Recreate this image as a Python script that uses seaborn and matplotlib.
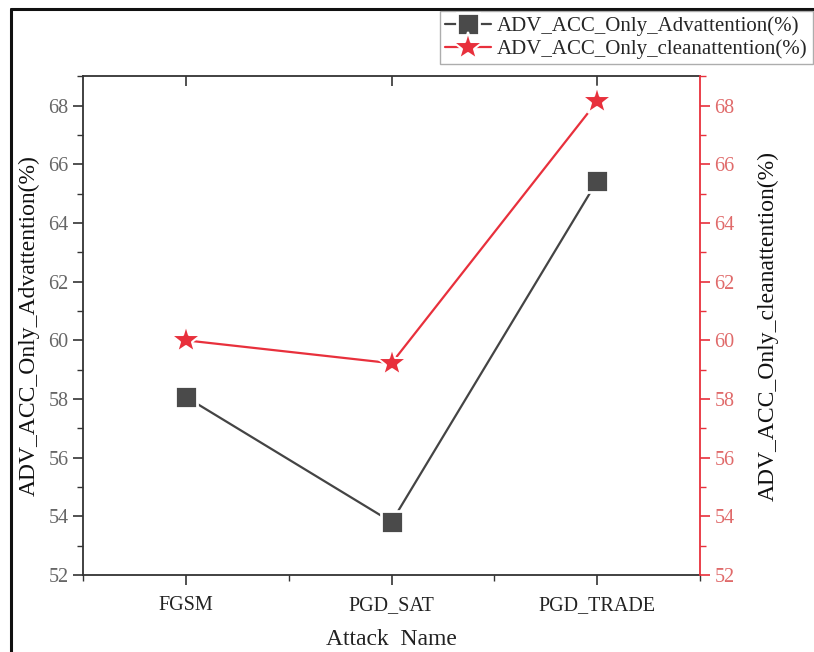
import matplotlib
matplotlib.use("Agg")
import matplotlib.pyplot as plt
import seaborn as sns
import pandas as pd
from matplotlib.lines import Line2D
from matplotlib.ticker import MultipleLocator, FixedLocator

attacks = ["FGSM", "PGD_SAT", "PGD_TRADE"]
adv_only = [58.07, 53.81, 65.43]
clean_only = [60.0, 59.22, 68.15]
yticks = [52, 54, 56, 58, 60, 62, 64, 66, 68]

sns.set_style("ticks")
plt.rcParams["font.family"] = ["Liberation Serif", "DejaVu Serif"]

df = pd.DataFrame({"attack": attacks, "adv": adv_only, "clean": clean_only})

fig = plt.figure(figsize=(8.14, 6.52), dpi=100)
ax = fig.add_axes([0.102, 0.118, 0.758, 0.765])
ax2 = ax.twinx()

black = "#444444"
red = "#e8303c"

sns.lineplot(data=df, x="attack", y="adv", ax=ax, sort=False, color=black,
             linewidth=1.6, marker="s", markersize=16, markerfacecolor="#4a4a4a",
             markeredgecolor="white", markeredgewidth=2.0,
             label="ADV_ACC_Only_Advattention(%)", legend=False)
sns.lineplot(data=df, x="attack", y="clean", ax=ax2, sort=False, color=red,
             linewidth=1.6, marker="*", markersize=22, markerfacecolor=red,
             markeredgecolor="white", markeredgewidth=1.5,
             label="ADV_ACC_Only_cleanattention(%)", legend=False)

for a in (ax, ax2):
    a.set_ylim(52, 69)
    a.set_xlim(-0.5, 2.5)
    a.yaxis.set_major_locator(FixedLocator(yticks))
    a.yaxis.set_minor_locator(MultipleLocator(1))

ax.xaxis.set_minor_locator(MultipleLocator(0.5))
ax.set_xticks(range(len(attacks)))
ax.set_xticklabels(attacks)

ax.tick_params(axis="y", which="major", direction="out", length=7, width=1.2,
               labelsize=14.5, labelcolor="#666666", color="#333333", right=False)
ax.tick_params(axis="y", which="minor", direction="out", length=4, width=1.0,
               color="#333333", right=False)
ax.tick_params(axis="x", which="major", direction="out", length=7, width=1.2,
               labelsize=14.5, labelcolor="#222222", color="#333333", pad=8)
ax.tick_params(axis="x", which="minor", direction="out", length=4, width=1.0,
               color="#333333")

ax2.tick_params(axis="y", which="major", direction="out", length=7, width=1.2,
                labelsize=14.5, labelcolor="#e06a6a", color=red)
ax2.tick_params(axis="y", which="minor", direction="out", length=4, width=1.0,
                color=red)

for s in ["left", "bottom", "top"]:
    ax.spines[s].set_color("#333333")
    ax.spines[s].set_linewidth(1.3)
ax.spines["right"].set_visible(False)
ax2.spines["right"].set_color(red)
ax2.spines["right"].set_linewidth(1.3)
for s in ["left", "bottom", "top"]:
    ax2.spines[s].set_visible(False)

top = ax.secondary_xaxis("top")
top.set_xticks(range(len(attacks)))
top.set_xticklabels([])
top.tick_params(direction="in", length=7, width=1.2, color="#333333")
top.spines["top"].set_visible(False)

ax.set_xlabel("Attack  Name", fontsize=17, color="#222222", labelpad=10)
ax.set_ylabel("ADV_ACC_Only_Advattention(%)", fontsize=17, color="#111111", labelpad=6)
ax2.set_ylabel("ADV_ACC_Only_cleanattention(%)", fontsize=17, color="#111111", labelpad=16)

h1, l1 = ax.get_legend_handles_labels()
h2, l2 = ax2.get_legend_handles_labels()
leg = fig.legend(h1 + h2, l1 + l2, loc="upper right",
                 bbox_to_anchor=(1 - 1 / 814, 1 - 11 / 652), fontsize=15,
                 frameon=True, fancybox=False, edgecolor="#999999",
                 handlelength=2.2, handletextpad=0.3, borderpad=0.25,
                 labelspacing=0.15, borderaxespad=0)
leg.get_frame().set_linewidth(1.0)

fig.add_artist(Line2D([11 / 814, 11 / 814], [0, 1 - 9 / 652], transform=fig.transFigure,
                      color="#111111", linewidth=2.2))
fig.add_artist(Line2D([11 / 814, 1], [1 - 9 / 652, 1 - 9 / 652], transform=fig.transFigure,
                      color="#111111", linewidth=2.2))

fig.savefig("out.png", dpi=100)
